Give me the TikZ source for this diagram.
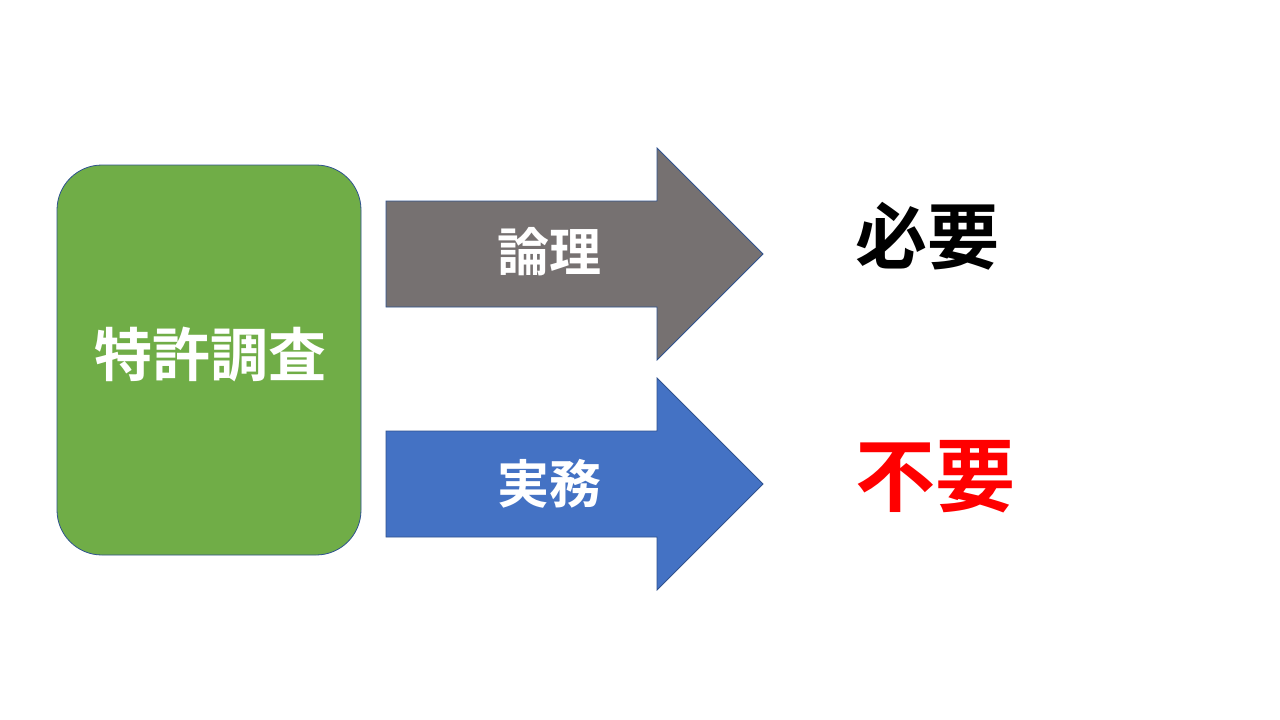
\documentclass[tikz,border=0pt]{standalone}
\usepackage{fontspec}
\newfontfamily\cjk{Noto Sans CJK JP Bold}
\definecolor{kgreen}{HTML}{70AD47}
\definecolor{kgray}{HTML}{767171}
\definecolor{kblue}{HTML}{4472C4}
\definecolor{kedge}{HTML}{2F528F}
\begin{document}
\begin{tikzpicture}[x=1pt,y=-1pt,
  box/.style={fill=kgreen,draw=kedge,line width=0.8pt,rounded corners=45pt},
  blockarrow/.style={draw=kedge,line width=0.8pt},
  lbl/.style={font=\cjk\fontsize{#1}{#1}\selectfont,inner sep=0pt,text height=0.8em,text depth=0.08em}]
\useasboundingbox (0,0) rectangle (1280,720);
\fill[white] (0,0) rectangle (1280,720);
\draw[box] (57,165) rectangle (361,555);
\node[lbl=58,text=white] (survey) at (210,373) {特許調査};
\draw[blockarrow,fill=kgray] (386,201) -- (657,201) -- (657,148) -- (763,254) -- (657,360) -- (657,307) -- (386,307) -- cycle;
\node[lbl=52,text=white] (logic) at (549,268) {論理};
\draw[blockarrow,fill=kblue] (386,431) -- (657,431) -- (657,378) -- (763,484) -- (657,590) -- (657,537) -- (386,537) -- cycle;
\node[lbl=52,text=white] (practice) at (549,500) {実務};
\node[lbl=72] (need) at (927,260) {必要};
\node[lbl=80,text=red] (noneed) at (935,502) {不要};
\end{tikzpicture}
\end{document}
